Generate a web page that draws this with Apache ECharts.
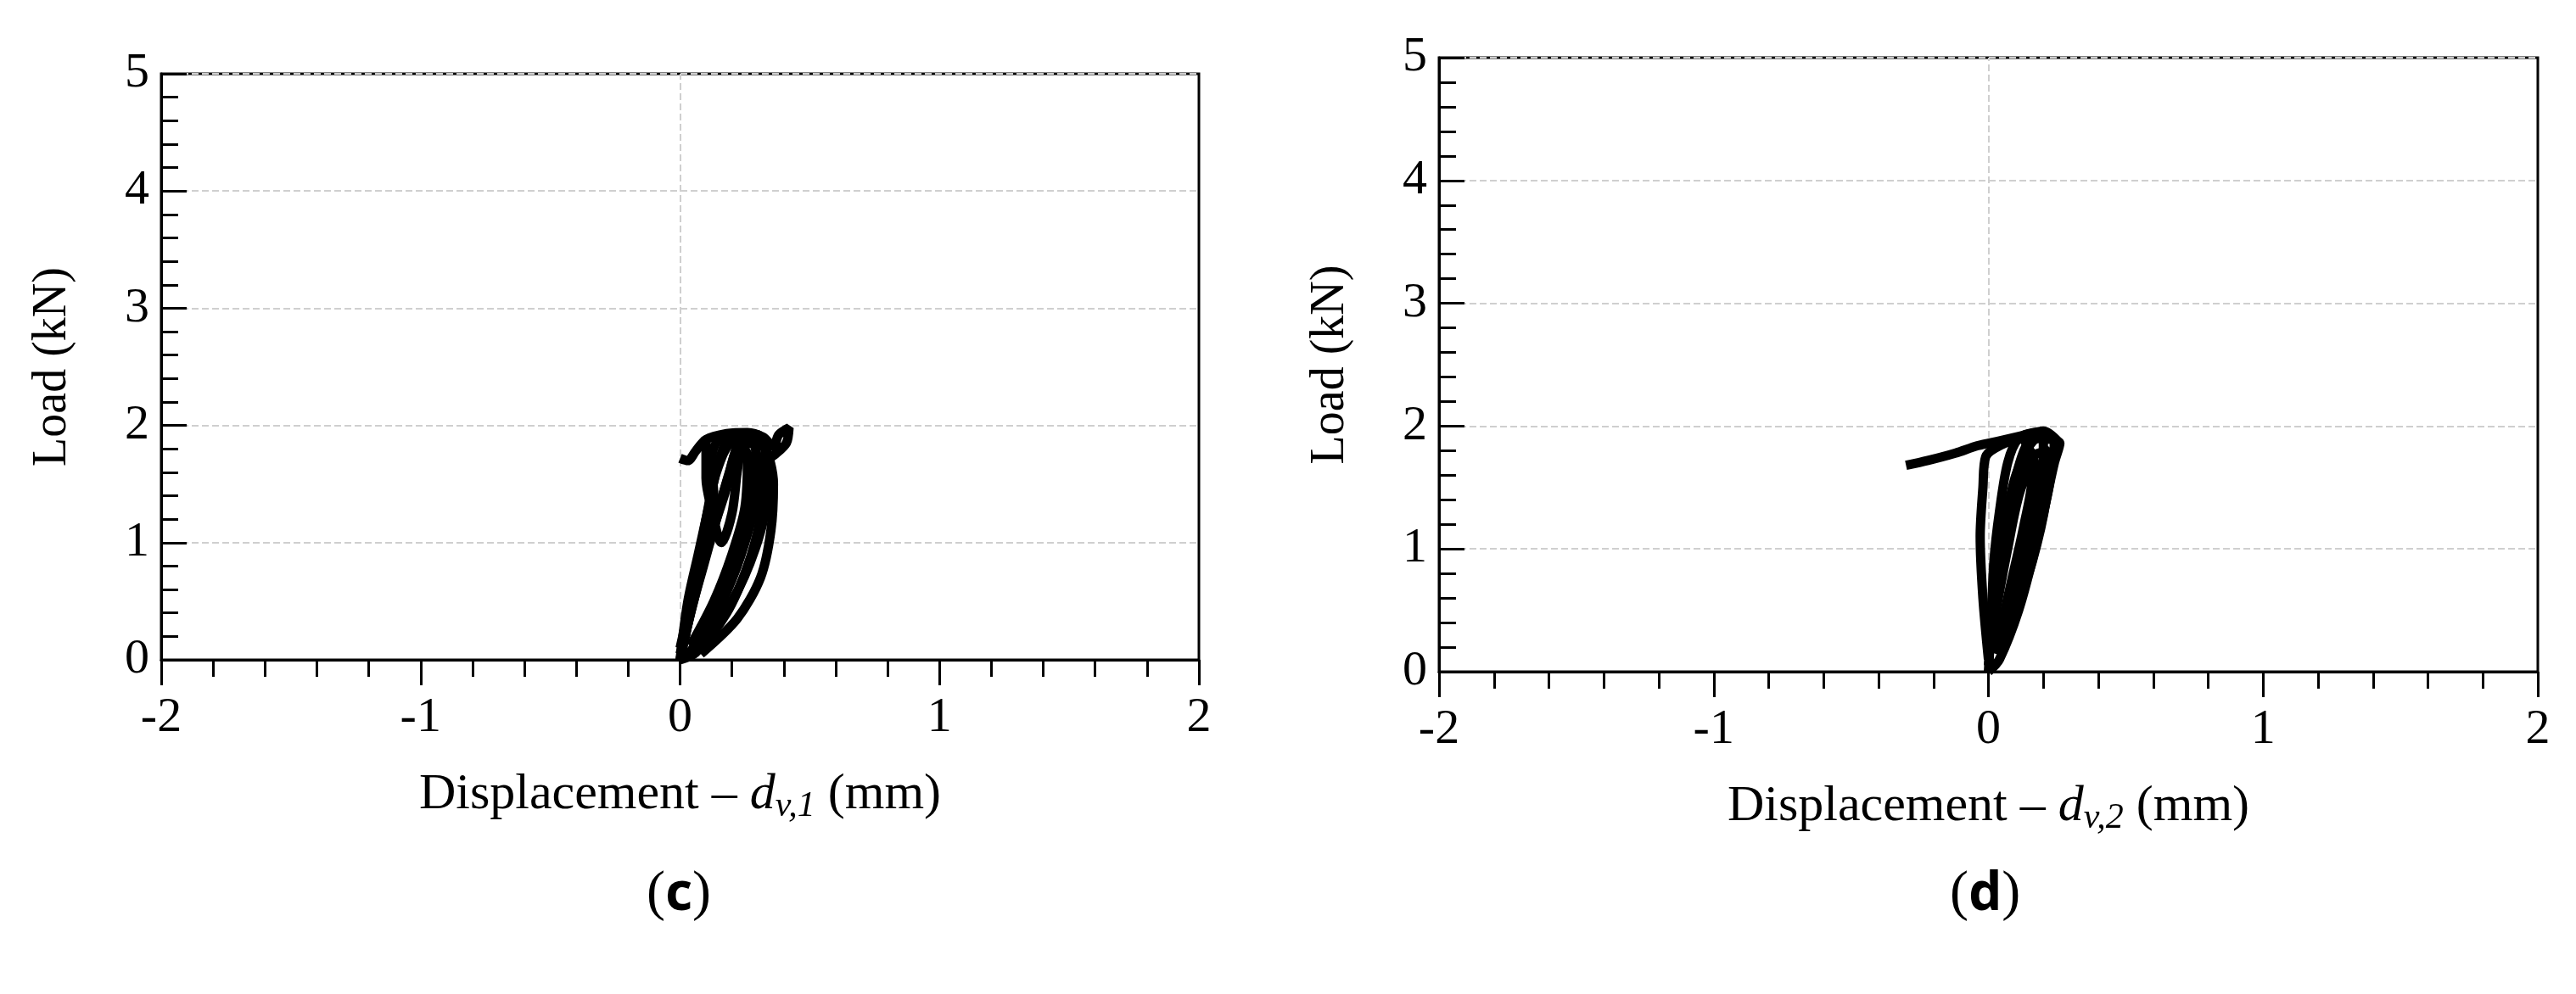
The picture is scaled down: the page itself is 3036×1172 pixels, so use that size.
<!DOCTYPE html>
<html>
<head>
<meta charset="utf-8">
<script src="https://cdn.jsdelivr.net/npm/echarts@6/dist/echarts.min.js"></script>
<style>html,body{margin:0;background:#fff}#chart{width:3036px;height:1172px}</style>
</head>
<body>
<div id="chart"></div>
<script>
'use strict';

// panel (c): load vs d_v,1 -- hand-read loops
var loopC1 = [[0,0],[0.04,0.4],[0.09,0.8],[0.14,1.2],[0.19,1.6],[0.24,1.9],[0.3,1.92],[0.34,1.65],[0.31,1.2],[0.26,0.8],[0.18,0.4],[0.06,0.06],[0,0]];
var loopC2 = [[0,0],[0.03,0.5],[0.07,0.9],[0.11,1.3],[0.15,1.7],[0.2,1.9],[0.27,1.9],[0.3,1.6],[0.27,1.2],[0.22,0.8],[0.14,0.4],[0.03,0.04]];
var loopC3 = [[0.01,0.1],[0.06,0.6],[0.1,1.0],[0.13,1.4],[0.12,1.7],[0.15,1.88],[0.25,1.93],[0.32,1.85],[0.36,1.5],[0.35,1.1],[0.31,0.7],[0.22,0.35],[0.08,0.05]];
var loopC4 = [[0,0.05],[0.05,0.5],[0.12,1.1],[0.18,1.5],[0.22,1.8],[0.28,1.85],[0.3,1.5],[0.25,1.0],[0.17,0.55],[0.05,0.1]];
var loopC5 = [[0,0.1],[0.06,0.7],[0.1,1.2],[0.14,1.6],[0.2,1.85],[0.26,1.75],[0.25,1.3],[0.2,0.9],[0.13,0.5],[0.04,0.12]];
var loopC6 = [[0.02,0.2],[0.08,0.8],[0.15,1.3],[0.21,1.7],[0.27,1.88],[0.33,1.78],[0.33,1.35],[0.29,0.95],[0.2,0.5],[0.08,0.15]];
var loopC7 = [[0.03,0.3],[0.1,0.9],[0.17,1.4],[0.23,1.75],[0.29,1.7],[0.28,1.3],[0.23,0.9],[0.15,0.5]];
var hookC = [[0,1.72],[0.03,1.7],[0.06,1.78],[0.1,1.88],[0.18,1.93],[0.26,1.94],[0.32,1.9],[0.36,1.82],[0.38,1.92],[0.42,1.98],[0.41,1.85],[0.37,1.76],[0.33,1.7]];
var stemC = [[0.1,1.9],[0.1,1.55],[0.12,1.3],[0.16,1.0],[0.2,1.25],[0.22,1.6],[0.24,1.9]];

// panel (d): load vs d_v,2
var loopD1 = [[0,0],[0.01,0.4],[0.02,0.9],[0.04,1.3],[0.07,1.7],[0.11,1.9],[0.18,1.95],[0.24,1.88],[0.22,1.5],[0.17,1.0],[0.11,0.5],[0.04,0.1],[0,0]];
var loopD2 = [[0,0.05],[0.02,0.6],[0.05,1.1],[0.09,1.5],[0.14,1.85],[0.2,1.92],[0.2,1.6],[0.15,1.1],[0.09,0.6],[0.03,0.15]];
var loopD3 = [[0,0.1],[-0.02,0.6],[-0.03,1.1],[-0.02,1.5],[-0.01,1.75],[0.05,1.85],[0.12,1.9],[0.16,1.6],[0.13,1.2],[0.08,0.7],[0.03,0.2]];
var loopD4 = [[0.01,0.2],[0.04,0.8],[0.08,1.3],[0.12,1.7],[0.18,1.9],[0.26,1.86],[0.24,1.7],[0.2,1.3],[0.14,0.8],[0.06,0.3]];
var loopD5 = [[0,0.1],[0.02,0.7],[0.06,1.2],[0.1,1.6],[0.15,1.8],[0.18,1.5],[0.13,1.0],[0.07,0.5],[0.02,0.15]];
var loopD6 = [[0.01,0.3],[0.05,0.9],[0.1,1.4],[0.16,1.75],[0.22,1.8],[0.21,1.4],[0.16,0.9],[0.09,0.45]];
var loopD7 = [[0.02,0.4],[0.07,1.0],[0.12,1.5],[0.18,1.7],[0.17,1.3],[0.12,0.85]];
var tailD = [[-0.3,1.68],[-0.22,1.72],[-0.12,1.78],[-0.04,1.84],[0.04,1.88],[0.12,1.92],[0.2,1.96],[0.26,1.86]];

var loopsC = [loopC1, loopC2, loopC3, loopC4, loopC5, loopC6, loopC7, hookC, stemC];
var loopsD = [loopD1, loopD2, loopD3, loopD4, loopD5, loopD6, loopD7, tailD];

var serif = 'Liberation Serif';
var tickStyle = {color: '#000', width: 3};

function xAxisFor(idx, sub) {
    return {
        gridIndex: idx, type: 'value', min: -2, max: 2, interval: 1,
        axisLine: {onZero: false, lineStyle: {color: '#000', width: 3}},
        axisTick: {inside: true, length: -30, lineStyle: tickStyle},
        minorTick: {show: true, splitNumber: 5, length: -20, lineStyle: tickStyle},
        splitLine: {show: false},
        axisLabel: {color: '#000', fontFamily: serif, fontSize: 58, margin: 40},
        name: '{a|Displacement – }{i|d}{s|v,' + sub + '}{a| (mm)}',
        nameLocation: 'middle', nameGap: 124,
        nameTextStyle: {
            rich: {
                a: {fontFamily: serif, fontSize: 60, color: '#000'},
                i: {fontFamily: serif, fontSize: 60, fontStyle: 'italic', color: '#000'},
                s: {fontFamily: serif, fontSize: 42, fontStyle: 'italic', color: '#000', padding: [28, 0, 0, 0]}
            }
        }
    };
}

function yAxisFor(idx) {
    return {
        gridIndex: idx, type: 'value', min: 0, max: 5, interval: 1,
        axisLine: {onZero: false, lineStyle: {color: '#000', width: 3}},
        axisTick: {inside: true, length: 30, lineStyle: tickStyle},
        minorTick: {show: true, splitNumber: 5, length: 20, lineStyle: tickStyle},
        splitLine: {show: true, lineStyle: {color: '#cfcfcf', type: 'dashed', width: 2}},
        axisLabel: {color: '#000', fontFamily: serif, fontSize: 58, margin: 14},
        name: 'Load (kN)', nameLocation: 'middle', nameGap: 100,
        nameTextStyle: {fontFamily: serif, fontSize: 56, color: '#000'}
    };
}

function seriesFor(loops, idx) {
    var out = loops.map(function (pts) {
        return {
            type: 'line', xAxisIndex: idx, yAxisIndex: idx, data: pts,
            smooth: 0.3, symbol: 'none', silent: true,
            lineStyle: {color: '#000', width: 11}
        };
    });
    out.push({
        type: 'line', xAxisIndex: idx, yAxisIndex: idx, data: [], silent: true,
        markLine: {symbol: 'none', label: {show: false}, z: 1,
            lineStyle: {color: '#cfcfcf', type: 'dashed', width: 2},
            data: [{xAxis: 0}]}
    });
    return out;
}

var chart = echarts.init(document.getElementById('chart'));
chart.setOption({
    backgroundColor: '#fff',
    animation: false,
    grid: [
        {left: 190, top: 87, width: 1223, height: 691, show: true, borderColor: '#000', borderWidth: 3, backgroundColor: 'transparent'},
        {left: 1696, top: 68, width: 1295, height: 724, show: true, borderColor: '#000', borderWidth: 3, backgroundColor: 'transparent'}
    ],
    xAxis: [xAxisFor(0, '1'), xAxisFor(1, '2')],
    yAxis: [yAxisFor(0), yAxisFor(1)],
    series: seriesFor(loopsC, 0).concat(seriesFor(loopsD, 1)),
    graphic: [
        {type: 'text', left: 762, top: 1022, style: {text: '({b|c})', font: '66px "Liberation Serif"', fill: '#000',
            rich: {b: {fontFamily: 'Noto Sans', fontWeight: 'bold', fontSize: 62, fill: '#000'}}}},
        {type: 'text', left: 2298, top: 1022, style: {text: '({b|d})', font: '66px "Liberation Serif"', fill: '#000',
            rich: {b: {fontFamily: 'Noto Sans', fontWeight: 'bold', fontSize: 62, fill: '#000'}}}}
    ]
});
</script>
</body>
</html>
